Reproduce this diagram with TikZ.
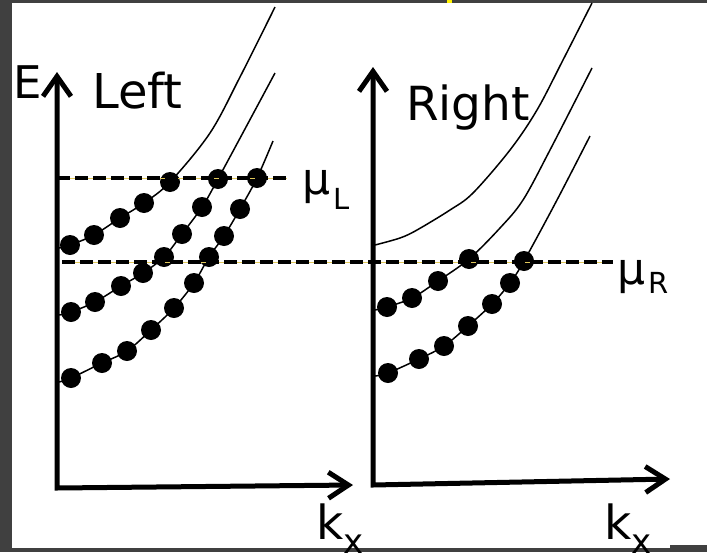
\documentclass[tikz,border=0pt]{standalone}
\usepackage{fontspec}
\setmainfont{DejaVu Sans}
\usetikzlibrary{arrows.meta}
\definecolor{framebg}{RGB}{64,64,64}
\definecolor{hiline}{RGB}{225,200,90}
\begin{document}
\begin{tikzpicture}[x=1pt,y=-1pt,
  axis/.style={line width=5pt, line join=miter,
    {Straight Barb[length=20pt,width=28pt]}-{Straight Barb[length=20pt,width=26pt]}},
  band/.style={line width=1.5pt},
  level/.style={line width=4.5pt, dash pattern=on 13pt off 5pt},
  levelhi/.style={line width=0.6pt, hiline},
  dot/.style={fill=black},
  lbl/.style={inner sep=0pt, anchor=base west},
]
\useasboundingbox (0,0) rectangle (707,552);
\clip (0,0) rectangle (707,552);
% frame
\fill[framebg] (0,0) rectangle (707,552);
\fill[white] (12,3) rectangle (707,548);
\fill[framebg] (670,545) rectangle (707,552);
\fill[yellow] (447,0) rectangle (452,2.5);

% axes
\draw[axis] (57,72) -- (57,488) -- (353,485);
\draw[axis] (373,67) -- (373,485) -- (670,479);

% left bands
\draw[band] plot[smooth, tension=0.55] coordinates {(59,248) (70,245) (94,235) (120,218) (144,203) (170,182) (210,133) (240,77) (275,7)};
\draw[band] plot[smooth, tension=0.55] coordinates {(59,315) (71,312) (95,302) (121,286) (143,273) (164,257) (182,234) (202,207) (218,179) (275,73)};
\draw[band] plot[smooth, tension=0.55] coordinates {(59,382) (71,378) (102,363) (127,351) (151,330) (174,308) (194,283) (209,257) (224,236) (240,209) (257,178) (273,141)};

% right bands
\draw[band] plot[smooth, tension=0.55] coordinates {(375,245) (400,238) (417,230) (450,210) (473,193) (510,150) (537,110) (563,60) (592,3)};
\draw[band] plot[smooth, tension=0.55] coordinates {(375,310) (387,307) (412,298) (438,281) (469,259) (500,228) (523,200) (550,150) (592,68)};
\draw[band] plot[smooth, tension=0.55] coordinates {(375,376) (388,373) (419,359) (444,346) (468,326) (492,304) (510,283) (524,261) (557,200) (590,136)};

% occupied states
\foreach \p in {(70,245),(94,235),(120,218),(144,203),(170,182),
  (71,312),(95,302),(121,286),(143,273),(164,257),(182,234),(202,207),(218,179),
  (71,378),(102,363),(127,351),(151,330),(174,308),(194,283),(209,257),(224,236),(240,209),(257,178),
  (387,307),(412,298),(438,281),(469,259),
  (388,373),(419,359),(444,346),(468,326),(492,304),(510,283),(524,261)}
  \fill[dot] \p circle[radius=10pt];

% chemical potentials
\coordinate (muLa) at (57,178);
\coordinate (muLb) at (287,178);
\coordinate (muRa) at (62,262);
\coordinate (muRb) at (613,262);
\draw[levelhi] (muLa) -- (muLb);
\draw[levelhi] (muRa) -- (muRb);
\draw[level] (muLa) -- (muLb);
\draw[level] (muRa) -- (muRb);

% labels
\node[lbl, font=\fontsize{45}{45}\selectfont] (E) at (13,98) {E};
\node[lbl, font=\fontsize{48}{48}\selectfont] (left) at (92,108) {Left};
\node[lbl, font=\fontsize{47}{47}\selectfont] (right) at (406,120) {Right};
\node[lbl, font=\fontsize{44}{44}\selectfont] (muL) at (302,194) {μ\kern3pt\raisebox{-15pt}{\fontsize{29}{29}\selectfont L}};
\node[lbl, font=\fontsize{44}{44}\selectfont] (muR) at (617,284) {μ\kern3pt\raisebox{-9pt}{\fontsize{29}{29}\selectfont R}};
\node[lbl, font=\fontsize{47}{47}\selectfont] (kxL) at (316,539) {k\raisebox{-14pt}{\fontsize{34}{34}\selectfont x}};
\node[lbl, font=\fontsize{47}{47}\selectfont] (kxR) at (604,539) {k\raisebox{-14pt}{\fontsize{34}{34}\selectfont x}};
\end{tikzpicture}
\end{document}
